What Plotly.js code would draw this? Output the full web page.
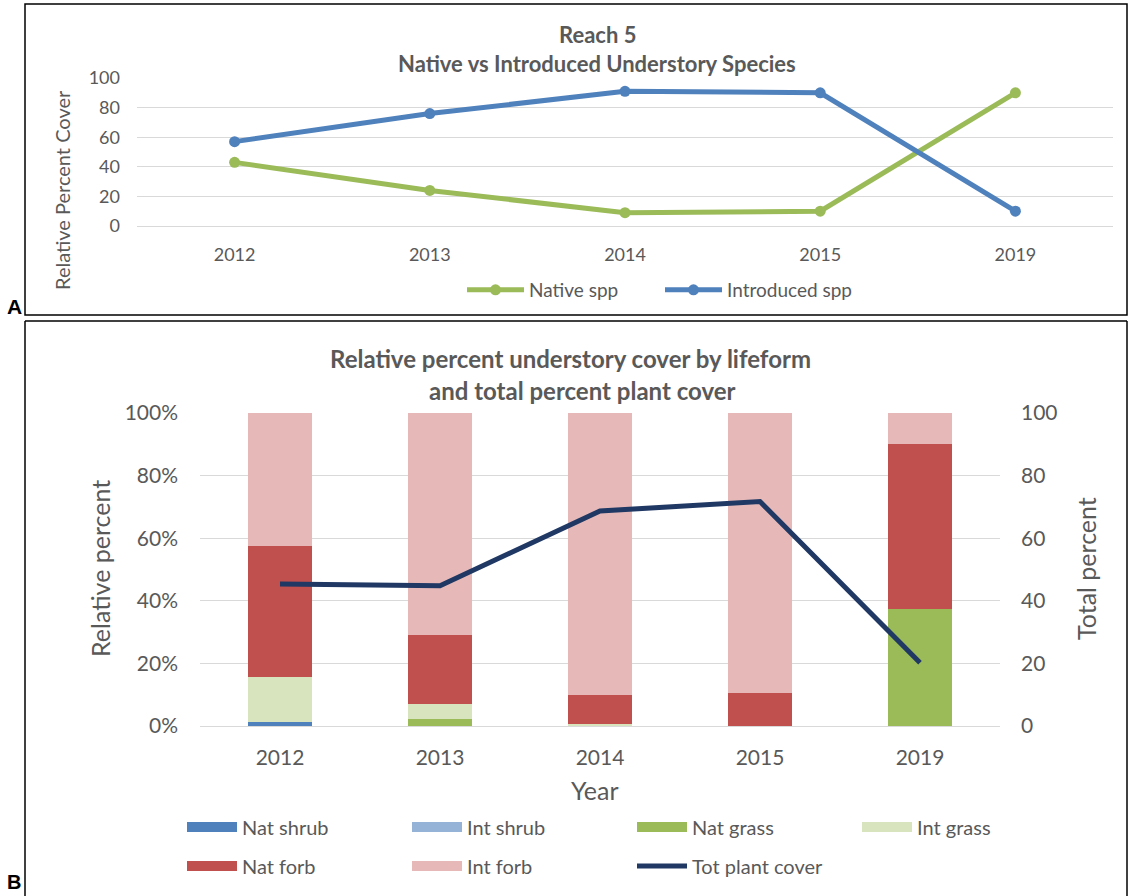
<!DOCTYPE html>
<html><head><meta charset="utf-8">
<script src="https://cdn.plot.ly/plotly-3.0.1.min.js"></script>
<style>html,body{margin:0;padding:0;background:#fff;} #chart{width:1129px;height:896px;}</style>
</head><body><div id="chart"></div>
<script>
// ---- Panel A data ----
const yearsA = ['2012', '2013', '2014', '2015', '2019'];
const nativeSpp = [43, 24, 9, 10, 90];
const introducedSpp = [57, 76, 91, 90, 10];

// ---- Panel B data (relative percent, stacked) ----
const yearsB = ['2012', '2013', '2014', '2015', '2019'];
const natShrub = [1.3, 0, 0, 0, 0];
const intShrub = [0, 0, 0, 0, 0];
const natGrass = [0, 2.2, 0, 0, 37.5];
const intGrass = [14.4, 4.7, 0.7, 0, 0];
const natForb = [41.7, 22.1, 9.3, 10.5, 52.5];
const intForb = [42.6, 71.0, 90.0, 89.5, 10.0];
const totPlantCover = [45.4, 44.8, 68.7, 71.7, 20.2];

const seriesNames = ['Nat shrub', 'Int shrub', 'Nat grass', 'Int grass', 'Nat forb', 'Int forb'];
const seriesValues = [natShrub, intShrub, natGrass, intGrass, natForb, intForb];
const seriesColors = ['#4F81BD', '#95B3D7', '#9BBB59', '#D7E4BD', '#C0504D', '#E6B9B8'];

const W = 1129, H = 896;
const px = v => v / W;
const py = v => 1 - v / H;
const FONT = 'Lato, "Open Sans", sans-serif';
const GREY = '#595959';
const GRID = '#D9D9D9';

const traces = [];
traces.push({
  type: 'scatter', mode: 'lines+markers', name: 'Native spp',
  x: yearsA, y: nativeSpp, xaxis: 'x', yaxis: 'y', legend: 'legend',
  line: {color: '#9BBB59', width: 5}, marker: {color: '#9BBB59', size: 11}
});
traces.push({
  type: 'scatter', mode: 'lines+markers', name: 'Introduced spp',
  x: yearsA, y: introducedSpp, xaxis: 'x', yaxis: 'y', legend: 'legend',
  line: {color: '#4F81BD', width: 5}, marker: {color: '#4F81BD', size: 11}
});

seriesNames.forEach((n, i) => {
  traces.push({
    type: 'bar', name: n, x: yearsB, y: seriesValues[i], xaxis: 'x2', yaxis: 'y2',
    marker: {color: seriesColors[i], line: {width: 0}}, showlegend: false
  });
});
// legend entries (wide swatches like the original)
seriesNames.forEach((n, i) => {
  traces.push({
    type: 'scatter', mode: 'lines', name: n, x: [null], y: [null], xaxis: 'x2', yaxis: 'y2',
    line: {color: seriesColors[i], width: 11}, legend: i < 4 ? 'legend2' : 'legend3',
    hoverinfo: 'skip'
  });
});
traces.push({
  type: 'scatter', mode: 'lines', name: 'Tot plant cover', x: yearsB, y: totPlantCover,
  xaxis: 'x2', yaxis: 'y3', legend: 'legend3',
  line: {color: '#203864', width: 5}
});

const tickFontA = {family: FONT, size: 18, color: GREY};
const tickFontB = {family: FONT, size: 21, color: GREY};

function ann(text, x, y, size, extra) {
  return Object.assign({text: text, xref: 'paper', yref: 'paper', x: px(x), y: py(y),
    xanchor: 'center', yanchor: 'middle', showarrow: false,
    font: {family: FONT, size: size, color: GREY}}, extra || {});
}

const layout = {
  width: W, height: H, margin: {l: 0, r: 0, t: 0, b: 0},
  paper_bgcolor: '#fff', plot_bgcolor: 'rgba(0,0,0,0)',
  barmode: 'stack', bargap: 0.6,
  font: {family: FONT, color: GREY},
  xaxis: {domain: [px(137), px(1113)], anchor: 'y', type: 'category', range: [-0.5, 4.5],
    showgrid: false, showline: false, ticks: '', tickfont: tickFontA, ticklabelstandoff: 16, fixedrange: true},
  yaxis: {domain: [py(226), py(78)], anchor: 'x', range: [0, 100], dtick: 20,
    gridcolor: GRID, gridwidth: 1, zeroline: true, zerolinecolor: GRID, zerolinewidth: 1,
    showline: false, ticks: '', tickfont: tickFontA, ticklabelstandoff: 16, fixedrange: true},
  xaxis2: {domain: [px(200), px(1000)], anchor: 'y2', type: 'category', range: [-0.5, 4.5],
    showgrid: false, showline: false, ticks: '', tickfont: tickFontB, ticklabelstandoff: 17, fixedrange: true},
  yaxis2: {domain: [py(726), py(413)], anchor: 'x2', range: [0, 100], dtick: 20, ticksuffix: '%',
    gridcolor: GRID, gridwidth: 1, zeroline: true, zerolinecolor: GRID, zerolinewidth: 1,
    showline: false, ticks: '', tickfont: tickFontB, ticklabelstandoff: 21, fixedrange: true},
  yaxis3: {overlaying: 'y2', side: 'right', anchor: 'x2', range: [0, 100], dtick: 20,
    showgrid: false, zeroline: false, showline: false, ticks: '', tickfont: tickFontB,
    ticklabelstandoff: 20, fixedrange: true},
  legend: {orientation: 'h', x: px(462), xanchor: 'left', y: py(290), yanchor: 'middle',
    traceorder: 'normal', font: {family: FONT, size: 19, color: GREY}, itemwidth: 57,
    bgcolor: 'rgba(0,0,0,0)', entrywidth: 126, entrywidthmode: 'pixels'},
  legend2: {orientation: 'h', x: px(182), xanchor: 'left', y: py(827), yanchor: 'middle',
    traceorder: 'normal', font: {family: FONT, size: 20, color: GREY}, itemwidth: 50,
    bgcolor: 'rgba(0,0,0,0)', entrywidth: 160, entrywidthmode: 'pixels'},
  legend3: {orientation: 'h', x: px(182), xanchor: 'left', y: py(866), yanchor: 'middle',
    traceorder: 'normal', font: {family: FONT, size: 20, color: GREY}, itemwidth: 50,
    bgcolor: 'rgba(0,0,0,0)', entrywidth: 160, entrywidthmode: 'pixels'},
  shapes: [
    {type: 'rect', xref: 'paper', yref: 'paper', x0: px(25), x1: px(1127), y0: py(315), y1: py(4),
      line: {color: '#000', width: 1.5}},
    {type: 'line', xref: 'paper', yref: 'paper', x0: px(25), x1: px(1127), y0: py(321), y1: py(321),
      line: {color: '#000', width: 1.5}},
    {type: 'line', xref: 'paper', yref: 'paper', x0: px(25), x1: px(25), y0: py(321), y1: py(896),
      line: {color: '#000', width: 1.5}},
    {type: 'line', xref: 'paper', yref: 'paper', x0: px(1127), x1: px(1127), y0: py(321), y1: py(896),
      line: {color: '#000', width: 1.5}}
  ],
  annotations: [
    ann('<b>Reach 5</b>', 597, 34, 22),
    ann('<b>Native vs Introduced Understory Species</b>', 597, 64, 22),
    ann('Relative Percent Cover', 62, 190, 20, {textangle: -90}),
    ann('<b>Relative percent understory cover by lifeform</b>', 570, 358, 24),
    ann('<b>and total percent plant cover</b>', 582, 390, 24),
    ann('Relative percent', 100, 569, 25, {textangle: -90}),
    ann('Total percent', 1086, 569, 25, {textangle: -90}),
    ann('Year', 595, 790, 25),
    ann('<b>A</b>', 14, 306, 21, {font: {family: 'Liberation Sans, Arial, sans-serif', size: 21, color: '#000'}}),
    ann('<b>B</b>', 14, 882, 20, {font: {family: 'Liberation Sans, Arial, sans-serif', size: 20, color: '#000'}})
  ]
};

Plotly.newPlot('chart', traces, layout, {displayModeBar: false, staticPlot: true});
</script>
</body></html>
